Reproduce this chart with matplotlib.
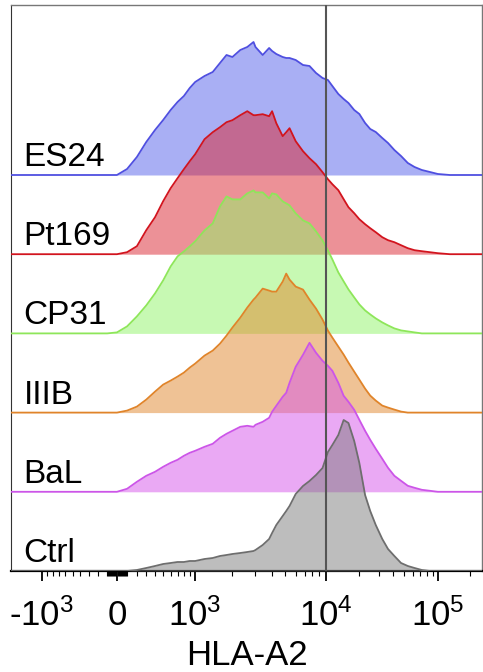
import numpy as np
import matplotlib
matplotlib.use("Agg")
import matplotlib.pyplot as plt
from matplotlib.ticker import FixedLocator, FixedFormatter, NullFormatter

plt.rcParams['font.family'] = ['Liberation Sans', 'DejaVu Sans']
plt.rcParams['mathtext.fontset'] = 'custom'
plt.rcParams['mathtext.rm'] = 'Liberation Sans'

# ------------ data -------------
# bin centres (HLA-A2 fluorescence)
bins = [-2000, -300, -100, 0, 100, 200, 300, 400, 500, 600, 700, 800, 900,
        1000, 1200, 1400, 1600, 1800, 2000, 2300, 2600, 2900, 3000, 3400,
        3800, 4000, 4300, 4800, 5100, 5400, 6000, 6800, 7600, 8500, 9500,
        10500, 11500, 13000, 14500, 16000, 18000, 20000, 22500, 25000, 28000,
        32000, 36000, 41000, 47000, 54000, 62000, 72000, 85000, 100000,
        130000, 170000, 262144]

es24 = [0, 0, 0, 0, 6, 18, 33, 45, 55, 65, 73, 79, 87, 93, 99, 103, 112, 120,
        118, 125, 128, 133, 128, 120, 127, 124, 121, 118, 117, 117, 115, 110,
        109, 102, 97, 95, 89, 81, 76, 72, 65, 61, 52, 46, 43, 37, 32, 25, 19,
        12, 8, 5, 3, 1, 0, 0, 0]
pt169 = [0, 0, 0, 0, 2, 8, 24, 37, 53, 66, 76, 85, 93, 100, 115, 122, 127, 132,
         134, 139, 143, 139, 139, 140, 138, 143, 131, 118, 122, 126, 113, 103,
         96, 90, 82, 75, 70, 64, 55, 47, 41, 35, 30, 26, 22, 17, 14, 12, 9, 6,
         4, 3, 2, 1, 0, 0, 0]
cp31 = [0, 0, 0, 1, 7, 17, 28, 40, 53, 67, 77, 82, 87, 92, 103, 110, 127, 137,
        134, 134, 140, 143, 141, 141, 135, 140, 139, 132, 130, 128, 120, 113,
        110, 102, 93, 83, 74, 61, 52, 44, 36, 29, 23, 19, 15, 11, 8, 5, 3, 2,
        1, 0, 0, 0, 0, 0, 0]
iiib = [0, 0, 0, 0, 2, 6, 13, 21, 28, 32, 36, 40, 45, 49, 57, 62, 69, 77, 85,
        95, 105, 113, 115, 124, 122, 121, 121, 131, 139, 133, 126, 123, 113,
        104, 93, 82, 75, 66, 58, 50, 41, 33, 24, 17, 12, 7, 5, 3, 1, 0, 0, 0,
        0, 0, 0, 0, 0]
bal = [0, 0, 0, 0, 3, 10, 16, 20, 25, 29, 32, 36, 39, 41, 45, 48, 54, 58, 61,
       65, 66, 65, 67, 70, 74, 80, 86, 95, 99, 109, 125, 137, 149, 139, 131,
       126, 121, 109, 96, 90, 82, 72, 61, 52, 43, 33, 24, 16, 11, 6, 4, 2, 1,
       0, 0, 0, 0]
ctrl = [0, 0, 0, 0, 0, 1, 3, 5, 7, 8, 9, 9, 10, 10, 12, 13, 15, 16, 17, 18, 19,
        20, 21, 26, 32, 38, 46, 55, 60, 65, 77, 85, 90, 96, 103, 119, 126, 136,
        151, 148, 130, 108, 76, 60, 46, 32, 22, 15, 8, 5, 3, 1, 0, 0, 0, 0, 0]

samples = ["ES24", "Pt169", "CP31", "IIIB", "BaL", "Ctrl"]
series = [es24, pt169, cp31, iiib, bal, ctrl]
line_colors = ['#4f4fe0', '#d2141e', '#8ee65a', '#e0842a', '#cc55e8', '#6e6e6e']
fill_colors = ['#5560ea', '#db2530', '#91f569', '#e1872d', '#d755eb', '#7d7d7d']

major_ticks = [-1000, 0, 1000, 10000, 100000]
major_labels = [r'-$\mathregular{10^{3}}$', '0', r'$\mathregular{10^{3}}$',
                r'$\mathregular{10^{4}}$', r'$\mathregular{10^{5}}$']


# ------------ biexponential-like display scale -------------
W = 600.0
anchor_vals = np.array([-10000, -1000, 0, 1000, 10000, 100000, 262144, 1e6])
anchor_pos = np.array([-88, 42, 117, 195, 325, 437, 481, 542], dtype=float)
anchor_u = np.arcsinh(anchor_vals / W)


def forward(x):
    return np.interp(np.arcsinh(np.asarray(x, dtype=float) / W), anchor_u, anchor_pos)


def inverse(p):
    return W * np.sinh(np.interp(np.asarray(p, dtype=float), anchor_pos, anchor_u))


minor_ticks = []
for d in (10, 100):
    for k in range(1, 10):
        minor_ticks += [k * d, -k * d]
for d in (1000, 10000, 100000):
    for k in range(2, 10):
        minor_ticks.append(k * d)
minor_ticks = [m for m in minor_ticks if -1780 <= m <= 262144]

# ------------ plot -------------
fig = plt.figure(figsize=(4.83, 6.72), dpi=100)
ax = fig.add_axes([11 / 483, 101 / 672, 471 / 483, 566 / 672])
ax.set_xscale('function', functions=(forward, inverse))

step = 79.2
n = len(samples)
for i, (name, h) in enumerate(zip(samples, series)):
    base = (n - 1 - i) * step
    y = base + np.array(h, dtype=float)
    z = 2 + 2 * i
    ax.fill_between(bins, base, y, color=fill_colors[i], alpha=0.5,
                    linewidth=0, zorder=z)
    ax.plot(bins, y, color=line_colors[i], lw=1.3, zorder=z + 1)
    ax.text(0.027, base + 9, name, transform=ax.get_yaxis_transform(),
            fontsize=24, va='baseline', ha='left', zorder=30)

ax.axvline(10000, color='#555555', lw=1.5, zorder=25)

ax.set_xlim(-1780, 262144)
ax.set_ylim(0, 566)
ax.set_yticks([])

ax.xaxis.set_major_locator(FixedLocator(major_ticks))
ax.xaxis.set_major_formatter(FixedFormatter(major_labels))
ax.xaxis.set_minor_locator(FixedLocator(minor_ticks))
ax.xaxis.set_minor_formatter(NullFormatter())
ax.tick_params(axis='x', which='major', direction='out', length=7, width=1.3,
               labelsize=25, pad=13)
ax.tick_params(axis='x', which='minor', direction='out', length=3.5, width=0.8)

for s in ('top', 'right'):
    ax.spines[s].set_color('#777777')
    ax.spines[s].set_linewidth(1.0)
ax.spines['left'].set_color('#333333')
ax.spines['bottom'].set_color('black')
ax.spines['bottom'].set_linewidth(1.6)

ax.set_xlabel("HLA-A2", fontsize=25, labelpad=4)

fig.savefig("out.png", dpi=100)
